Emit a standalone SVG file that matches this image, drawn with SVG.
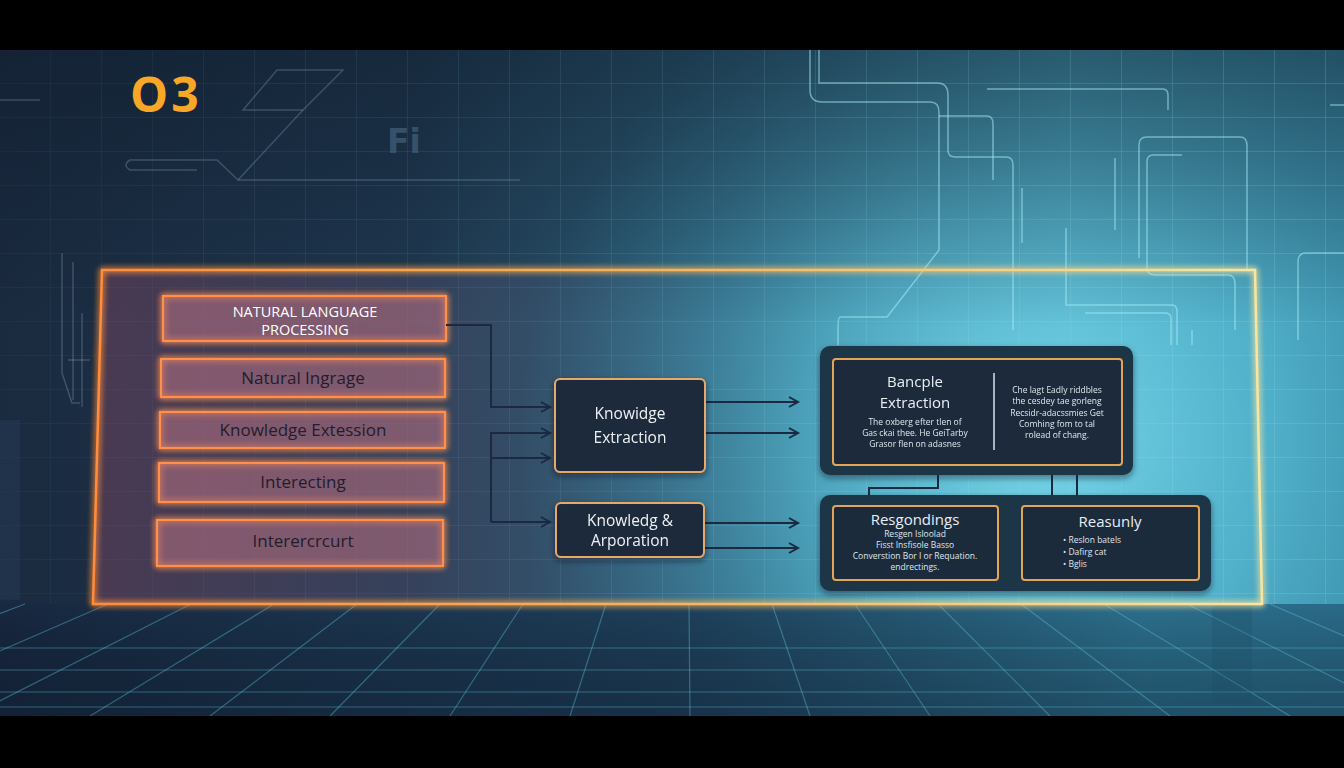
<svg xmlns="http://www.w3.org/2000/svg" width="1344" height="768" viewBox="0 0 1344 768">
<defs>
  <linearGradient id="bg" x1="0" y1="0" x2="1" y2="0">
    <stop offset="0" stop-color="#1a2a3f"/>
    <stop offset="0.3" stop-color="#1f3850"/>
    <stop offset="0.55" stop-color="#2f6680"/>
    <stop offset="0.8" stop-color="#4aa8c2"/>
    <stop offset="1" stop-color="#3a8fab"/>
  </linearGradient>
  <radialGradient id="glow" cx="1040" cy="440" r="520" gradientUnits="userSpaceOnUse">
    <stop offset="0" stop-color="#7ad8ea" stop-opacity="0.95"/>
    <stop offset="0.45" stop-color="#5cc0d8" stop-opacity="0.6"/>
    <stop offset="1" stop-color="#3a8fab" stop-opacity="0"/>
  </radialGradient>
  <linearGradient id="topdark" x1="0" y1="0" x2="0" y2="1">
    <stop offset="0" stop-color="#0f1c2c" stop-opacity="0.55"/>
    <stop offset="0.5" stop-color="#0f1c2c" stop-opacity="0"/>
  </linearGradient>
  <linearGradient id="floor" x1="0" y1="0" x2="1" y2="0">
    <stop offset="0" stop-color="#172840"/>
    <stop offset="0.5" stop-color="#1e3f5a"/>
    <stop offset="0.85" stop-color="#2c6f8c"/>
    <stop offset="1" stop-color="#2a6a88"/>
  </linearGradient>
  <linearGradient id="floorv" x1="0" y1="0" x2="0" y2="1">
    <stop offset="0" stop-color="#000" stop-opacity="0"/>
    <stop offset="1" stop-color="#0a1626" stop-opacity="0.35"/>
  </linearGradient>
  <linearGradient id="inner" x1="93" y1="0" x2="800" y2="0" gradientUnits="userSpaceOnUse">
    <stop offset="0" stop-color="#8a4a66" stop-opacity="0.42"/>
    <stop offset="0.45" stop-color="#7a5a7a" stop-opacity="0.25"/>
    <stop offset="1" stop-color="#6a7a9a" stop-opacity="0"/>
  </linearGradient>
  <linearGradient id="frameStroke" x1="93" y1="0" x2="1262" y2="0" gradientUnits="userSpaceOnUse">
    <stop offset="0" stop-color="#ff8c3a"/>
    <stop offset="0.5" stop-color="#f7b45a"/>
    <stop offset="1" stop-color="#f8e6a0"/>
  </linearGradient>
  <pattern id="grid" width="51" height="34" patternUnits="userSpaceOnUse" x="0" y="16">
    <path d="M51 0 V34 M0 34 H51" fill="none" stroke="#9fe6f5" stroke-width="1"/>
  </pattern>
  <linearGradient id="gridMaskG" x1="0" y1="0" x2="1" y2="0">
    <stop offset="0" stop-color="#fff" stop-opacity="0.08"/>
    <stop offset="0.6" stop-color="#fff" stop-opacity="0.25"/>
    <stop offset="1" stop-color="#fff" stop-opacity="0.35"/>
  </linearGradient>
  <mask id="gridMask"><rect x="0" y="50" width="1344" height="555" fill="url(#gridMaskG)"/></mask>
  <filter id="oglow" x="-10%" y="-30%" width="120%" height="160%">
    <feGaussianBlur stdDeviation="3" result="b"/>
    <feMerge><feMergeNode in="b"/><feMergeNode in="b"/><feMergeNode in="SourceGraphic"/></feMerge>
  </filter>
  <filter id="shadow" x="-10%" y="-20%" width="120%" height="150%">
    <feDropShadow dx="0" dy="3" stdDeviation="3" flood-color="#0a1420" flood-opacity="0.5"/>
  </filter>
  <marker id="arr" markerWidth="14" markerHeight="14" refX="11" refY="6" orient="auto" markerUnits="userSpaceOnUse">
    <path d="M2,1 L11,6 L2,11" fill="none" stroke="#1b2a40" stroke-width="2"/>
  </marker>
  <style>
    .lbox{fill:#a0687a;fill-opacity:0.32;stroke:#ff8f48;stroke-width:2.2;}
    .ltxt{font-family:"Open Sans","Noto Sans",sans-serif;font-size:17px;fill:#241c2c;text-anchor:middle;}
    .wtxt{font-family:"Open Sans","Noto Sans",sans-serif;font-size:14.5px;font-weight:500;fill:#ffffff;text-anchor:middle;}
    .mbox{fill:#1e2a3a;stroke:#e9a868;stroke-width:2;}
    .mtxt{font-family:"Open Sans","Noto Sans",sans-serif;font-size:15.5px;fill:#eef2f6;text-anchor:middle;}
    .obox{fill:#1c3446;}
    .ibox{fill:#1c2b3b;stroke:#e4a552;stroke-width:2;}
    .ttl{font-family:"Open Sans","Noto Sans",sans-serif;font-size:15px;fill:#e8eef4;text-anchor:middle;}
    .sm{font-family:"Open Sans","Noto Sans",sans-serif;font-size:8.5px;fill:#dfe7ee;text-anchor:middle;}
    .sml{font-family:"Open Sans","Noto Sans",sans-serif;font-size:8.5px;fill:#dfe7ee;}
    .conn{fill:none;stroke:#1b2a40;stroke-width:2;}
    .circ{fill:none;stroke:#a8ecf8;stroke-width:1.5;stroke-opacity:0.55;}
    .circd{fill:none;stroke:#8fb0c8;stroke-width:1.5;stroke-opacity:0.3;}
    .fl{stroke:#5fc4dc;stroke-width:1.2;stroke-opacity:0.4;}
  </style>
</defs>

<!-- background -->
<rect x="0" y="0" width="1344" height="768" fill="url(#bg)"/>
<rect x="0" y="0" width="1344" height="768" fill="url(#glow)"/>
<rect x="0" y="50" width="1344" height="555" fill="url(#topdark)"/>
<rect x="0" y="50" width="1344" height="555" fill="url(#grid)" mask="url(#gridMask)"/>

<!-- background circuit decorations -->
<g id="circuits">
  <path class="circ" d="M810,50 V90 Q810,102 822,102 H930 Q939,102 939,112 V250 L887,317 H840 Q838,317 838,330 V345"/>
  <path class="circ" d="M819,50 V83 H937 Q948,83 948,95 V150 Q948,157 955,157 H1006 Q1013,157 1013,165 V330"/>
  <path class="circ" d="M939,116 H987 Q993,116 993,124 V180"/>
  <path class="circ" d="M987,89 H1163 Q1168,89 1168,96 V110"/>
  <path class="circ" d="M1022,188 V243"/>
  <path class="circ" d="M1115,158 V230" stroke-width="3"/>
  <path class="circ" d="M1139,258 V145 Q1139,137 1147,137 H1240 Q1247,137 1247,146 V270"/>
  <path class="circ" d="M1182,155 H1153 Q1147,155 1147,162 V268 Q1147,275 1156,275 H1228 Q1235,275 1235,284 V330"/>
  <path class="circ" d="M1066,228 V305 H1172 Q1177,305 1177,312 V345"/>
  <path class="circ" d="M1085,313 H1166 Q1171,313 1171,320 V345"/>
  <path class="circ" d="M1192,330 V345"/>
  <path class="circ" d="M1344,253 H1306 Q1298,253 1298,262 V340"/>
  <path class="circ" d="M1330,105 H1344"/>
  <path class="circd" d="M277,70 H343 L303,110 H243 Z"/>
  <path class="circd" d="M303,110 L238,180 L217,160 H130 Q122,165 130,170 H197"/>
  <path class="circd" d="M238,180 H520"/>
  <path class="circd" d="M62,253 V373 L72,403 H80"/>
  <path class="circd" d="M73,262 V400"/>
  <path class="circd" d="M82,313 V407"/>
  <path class="circd" d="M68,360 H90"/>
  <path class="circd" d="M0,100 H40"/>
  <rect x="0" y="420" width="20" height="180" fill="#2a4560" fill-opacity="0.3"/>
  <text x="387" y="153" font-family="'DejaVu Sans', sans-serif" font-size="33" font-weight="bold" fill="#4a6a84" fill-opacity="0.6">Fi</text>
</g>

<!-- floor -->
<g id="floorGrid">
  <rect x="0" y="604" width="1344" height="112" fill="url(#floor)"/>
  <rect x="0" y="604" width="1344" height="112" fill="url(#floorv)"/>
  <line class="fl" x1="0" y1="648" x2="1344" y2="648"/>
  <line class="fl" x1="0" y1="670" x2="1344" y2="670"/>
  <line class="fl" x1="0" y1="692" x2="1344" y2="692"/>
  <line class="fl" x1="0" y1="707" x2="1344" y2="707"/>
  <line class="fl" x1="-141" y1="604" x2="-510" y2="716"/>
  <line class="fl" x1="-58" y1="604" x2="-390" y2="716"/>
  <line class="fl" x1="25" y1="604" x2="-270" y2="716"/>
  <line class="fl" x1="108" y1="604" x2="-150" y2="716"/>
  <line class="fl" x1="191" y1="604" x2="-30" y2="716"/>
  <line class="fl" x1="274" y1="604" x2="90" y2="716"/>
  <line class="fl" x1="357" y1="604" x2="210" y2="716"/>
  <line class="fl" x1="440" y1="604" x2="330" y2="716"/>
  <line class="fl" x1="523" y1="604" x2="450" y2="716"/>
  <line class="fl" x1="606" y1="604" x2="570" y2="716"/>
  <line class="fl" x1="689" y1="604" x2="690" y2="716"/>
  <line class="fl" x1="772" y1="604" x2="810" y2="716"/>
  <line class="fl" x1="855" y1="604" x2="930" y2="716"/>
  <line class="fl" x1="938" y1="604" x2="1050" y2="716"/>
  <line class="fl" x1="1021" y1="604" x2="1170" y2="716"/>
  <line class="fl" x1="1104" y1="604" x2="1290" y2="716"/>
  <line class="fl" x1="1187" y1="604" x2="1410" y2="716"/>
  <line class="fl" x1="1270" y1="604" x2="1530" y2="716"/>
  <line class="fl" x1="1353" y1="604" x2="1650" y2="716"/>
  <rect x="1212" y="604" width="40" height="100" fill="#1c4a64" fill-opacity="0.25"/>
</g>

<!-- main frame -->
<g id="frame">
  <polygon points="102,270 1255,270 1262,604 93,604" fill="url(#inner)"/>
  <polygon points="102,270 1255,270 1262,604 93,604" fill="none" stroke="url(#frameStroke)" stroke-width="2.5" filter="url(#oglow)"/>
</g>

<!-- title -->
<g id="title">
  <text x="130" y="112" font-family="'Open Sans','Noto Sans',sans-serif" font-size="48" font-weight="bold" letter-spacing="3" fill="#f8a826">O3</text>
</g>

<!-- left column -->
<g id="n-nlp">
  <rect class="lbox" x="163" y="296" width="283" height="45" filter="url(#oglow)"/>
  <text class="wtxt" x="305" y="317">NATURAL LANGUAGE</text>
  <text class="wtxt" x="305" y="335">PROCESSING</text>
</g>
<g id="n-ingrage">
  <rect class="lbox" x="161" y="359" width="284" height="38" filter="url(#oglow)"/>
  <text class="ltxt" x="303" y="384">Natural Ingrage</text>
</g>
<g id="n-extession">
  <rect class="lbox" x="160" y="412" width="285" height="36" filter="url(#oglow)"/>
  <text class="ltxt" x="303" y="436">Knowledge Extession</text>
</g>
<g id="n-interecting">
  <rect class="lbox" x="159" y="463" width="285" height="39" filter="url(#oglow)"/>
  <text class="ltxt" x="303" y="488">Interecting</text>
</g>
<g id="n-interercrcurt">
  <rect class="lbox" x="157" y="520" width="286" height="46" filter="url(#oglow)"/>
  <text class="ltxt" x="303" y="547">Interercrcurt</text>
</g>

<!-- connectors -->
<g id="connectors">
  <path class="conn" d="M446,325 H491 V407 H550" marker-end="url(#arr)"/>
  <path class="conn" d="M491,522 V433 H550" marker-end="url(#arr)"/>
  <path class="conn" d="M491,458 H550" marker-end="url(#arr)"/>
  <path class="conn" d="M491,522 H550" marker-end="url(#arr)"/>
  <path class="conn" d="M705,402 H798" marker-end="url(#arr)"/>
  <path class="conn" d="M705,433 H798" marker-end="url(#arr)"/>
  <path class="conn" d="M705,523 H798" marker-end="url(#arr)"/>
  <path class="conn" d="M705,548 H798" marker-end="url(#arr)"/>
  <path class="conn" d="M938,474 V488 H869 V496"/>
  <path class="conn" d="M1052,474 V496"/>
  <path class="conn" d="M1077,474 V496"/>
</g>

<!-- middle nodes -->
<g id="n-knowledge-extraction" filter="url(#shadow)">
  <rect class="mbox" x="555" y="379" width="150" height="93" rx="5"/>
  <text class="mtxt" x="630" y="419">Knowidge</text>
  <text class="mtxt" x="630" y="443">Extraction</text>
</g>
<g id="n-arporation" filter="url(#shadow)">
  <rect class="mbox" x="556" y="503" width="148" height="54" rx="5"/>
  <text class="mtxt" x="630" y="526">Knowledg &amp;</text>
  <text class="mtxt" x="630" y="546">Arporation</text>
</g>

<!-- right top node -->
<g id="n-bancple" filter="url(#shadow)">
  <rect class="obox" x="820" y="346" width="313" height="129" rx="10"/>
  <rect class="ibox" x="833" y="359" width="289" height="106" rx="3"/>
  <text class="ttl" x="915" y="387">Bancple</text>
  <text class="ttl" x="915" y="408">Extraction</text>
  <text class="sm" x="915" y="425">The oxberg efter tlen of</text>
  <text class="sm" x="915" y="436">Gas ckai thee. He GeiTarby</text>
  <text class="sm" x="915" y="447">Grasor flen on adasnes</text>
  <line x1="994" y1="373" x2="994" y2="450" stroke="#d8e2ea" stroke-width="1.5"/>
  <text class="sm" x="1057" y="393">Che lagt Eadly riddbles</text>
  <text class="sm" x="1057" y="404">the cesdey tae gorleng</text>
  <text class="sm" x="1057" y="416">Recsidr-adacssmies Get</text>
  <text class="sm" x="1057" y="427">Comhing fom to tal</text>
  <text class="sm" x="1057" y="438">rolead of chang.</text>
</g>

<!-- right bottom nodes -->
<g id="n-bottom-panel" filter="url(#shadow)">
  <rect class="obox" x="820" y="495" width="391" height="96" rx="10"/>
</g>
<g id="n-resgondings">
  <rect class="ibox" x="833" y="506" width="165" height="74" rx="3"/>
  <text class="ttl" x="915" y="525">Resgondings</text>
  <text class="sm" x="915" y="537">Resgen Isloolad</text>
  <text class="sm" x="915" y="548">Fisst Insfisole Basso</text>
  <text class="sm" x="915" y="559">Converstion Bor I or Requation.</text>
  <text class="sm" x="915" y="570">endrectings.</text>
</g>
<g id="n-reasunly">
  <rect class="ibox" x="1022" y="506" width="177" height="74" rx="3"/>
  <text class="ttl" x="1110" y="527">Reasunly</text>
  <text class="sml" x="1063" y="543">•  Reslon batels</text>
  <text class="sml" x="1063" y="555">•  Dafirg cat</text>
  <text class="sml" x="1063" y="567">•  Bglis</text>
</g>

<!-- black bars -->
<rect x="0" y="0" width="1344" height="50" fill="#000"/>
<rect x="0" y="716" width="1344" height="52" fill="#000"/>
</svg>
